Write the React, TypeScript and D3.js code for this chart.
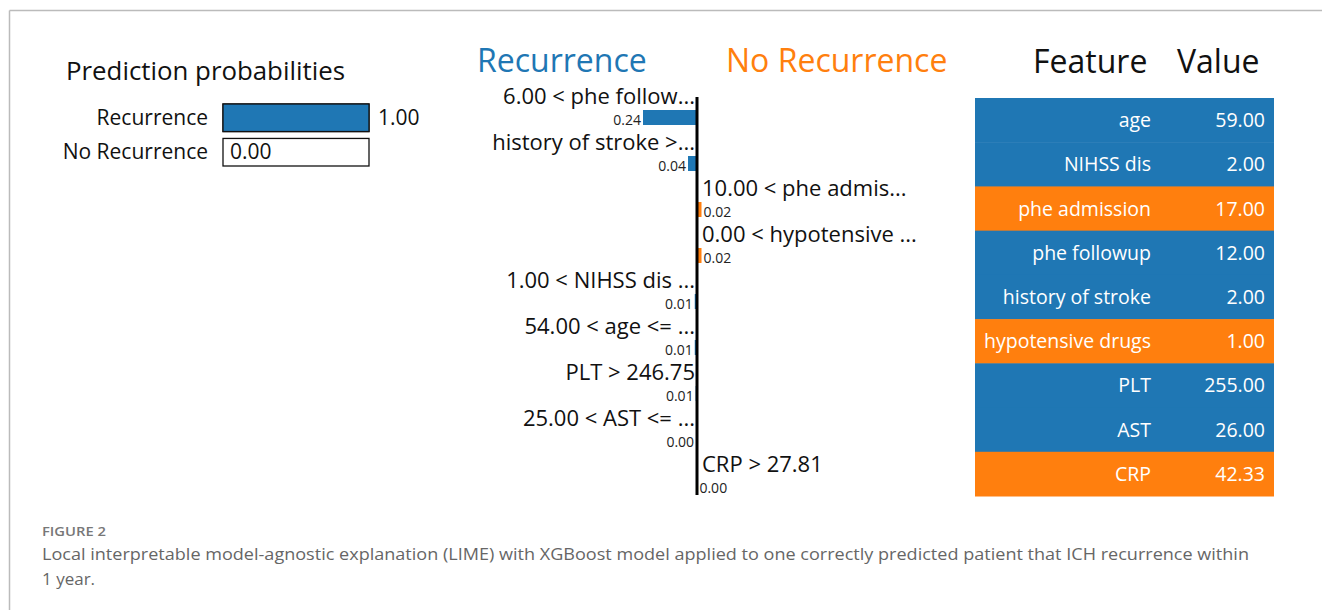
import React from "react";
import * as d3 from "d3";

const BLUE = "#1f77b4";
const ORANGE = "#ff7f0e";
const FONT = "'Open Sans', 'Noto Sans', sans-serif";

// prediction probabilities
const classNames = ["Recurrence", "No Recurrence"];
const classProbs = [1.0, 0.0];

// LIME explanation weights (negative = towards Recurrence)
const ruleLabels = [
  "6.00 < phe follow...",
  "history of stroke >...",
  "10.00 < phe admis...",
  "0.00 < hypotensive ...",
  "1.00 < NIHSS dis ...",
  "54.00 < age <= ...",
  "PLT > 246.75",
  "25.00 < AST <= ...",
  "CRP > 27.81",
];
const ruleWeights = [-0.24, -0.04, 0.02, 0.02, -0.01, -0.01, -0.006, -0.004, 0.002];

// feature table
const featureNames = ["age", "NIHSS dis", "phe admission", "phe followup", "history of stroke", "hypotensive drugs", "PLT", "AST", "CRP"];
const featureValues = ["59.00", "2.00", "17.00", "12.00", "2.00", "1.00", "255.00", "26.00", "42.33"];
const featureSide = ["rec", "rec", "no", "rec", "rec", "no", "rec", "rec", "no"];

const captionTitle = "FIGURE 2";
const captionLines = [
  "Local interpretable model-agnostic explanation (LIME) with XGBoost model applied to one correctly predicted patient that ICH recurrence within",
  "1 year.",
];

function ProbPanel() {
  const x = d3.scaleLinear().domain([0, 1]).range([223, 369]);
  const y = d3.scaleBand().domain(classNames).range([104, 166]).paddingInner(0.2);
  return (
    <g fontFamily={FONT}>
      <text x={66} y={80} fontSize={25} fill="#111" textLength={279} lengthAdjust="spacingAndGlyphs">Prediction probabilities</text>
      {classNames.map((c, i) => {
        const yy = y(c)!;
        const h = y.bandwidth();
        const p = classProbs[i];
        return (
          <g key={c}>
            <text x={208} y={yy + h / 2 + 7} textAnchor="end" fontSize={21} fill="#111">{c}</text>
            <rect x={x(0)} y={yy} width={x(1) - x(0)} height={h} fill="none" stroke="#111" strokeWidth={1.3} />
            <rect x={x(0)} y={yy} width={x(p) - x(0)} height={h} fill={BLUE} stroke="#111" strokeWidth={1.3} />
            {p > 0.5 ? (
              <text x={x(1) + 9} y={yy + h / 2 + 7} fontSize={21} fill="#111">{p.toFixed(2)}</text>
            ) : (
              <text x={x(0) + 7} y={yy + h / 2 + 7} fontSize={21} fill="#111">{p.toFixed(2)}</text>
            )}
          </g>
        );
      })}
    </g>
  );
}

function ExplainPanel() {
  const axisX = 697;
  const w = d3.scaleLinear().domain([0, 0.24]).range([0, 54]);
  const y = d3.scaleBand().domain(ruleLabels).range([88, 502]);
  return (
    <g fontFamily={FONT}>
      <text x={477} y={72} fontSize={32} fill={BLUE}>Recurrence</text>
      <text x={726} y={72} fontSize={32} fill={ORANGE}>No Recurrence</text>
      {ruleLabels.map((r, i) => {
        const v = ruleWeights[i];
        const top = y(r)!;
        const left = v < 0;
        const bw = w(Math.abs(v));
        const barY = top + 22;
        return (
          <g key={r}>
            <text x={left ? axisX - 2 : axisX + 5} y={top + 16} textAnchor={left ? "end" : "start"} fontSize={22} fill="#111">{r}</text>
            <rect x={left ? axisX - bw : axisX} y={barY} width={bw} height={15} fill={left ? BLUE : ORANGE} />
            <text x={left ? axisX - bw - 2 : axisX + bw + 2} y={barY + 14.5} textAnchor={left ? "end" : "start"} fontSize={14} fill="#222">{Math.abs(v).toFixed(2)}</text>
          </g>
        );
      })}
      <line x1={axisX} x2={axisX} y1={97} y2={495} stroke="#000" strokeWidth={3} />
    </g>
  );
}

function TablePanel() {
  const y = d3.scaleBand().domain(featureNames).range([98, 496]);
  return (
    <g fontFamily={FONT}>
      <text x={1033} y={73} fontSize={32} fill="#111">Feature</text>
      <text x={1177} y={73} fontSize={32} fill="#111">Value</text>
      {featureNames.map((f, i) => {
        const yy = y(f)!;
        const h = y.bandwidth();
        return (
          <g key={f}>
            <rect x={975} y={yy} width={299} height={h + 0.5} fill={featureSide[i] === "no" ? ORANGE : BLUE} />
            <text x={1151} y={yy + h / 2 + 7} textAnchor="end" fontSize={19.5} fill="#fff">{f}</text>
            <text x={1265} y={yy + h / 2 + 7} textAnchor="end" fontSize={19.5} fill="#fff">{featureValues[i]}</text>
          </g>
        );
      })}
    </g>
  );
}

export default function App() {
  return (
    <div style={{ position: "fixed", left: 0, top: 0 }}>
      <svg width={1322} height={610} style={{ display: "block", background: "#fff" }}>
        <line x1={9.5} x2={1322} y1={10.5} y2={10.5} stroke="#bbb" strokeWidth={1.5} />
        <line x1={9.5} x2={9.5} y1={10.5} y2={610} stroke="#bbb" strokeWidth={1.5} />
        <ProbPanel />
        <ExplainPanel />
        <TablePanel />
        <text x={42} y={536} fontFamily={FONT} fontSize={13} fontWeight={600} fill="#777" textLength={64} lengthAdjust="spacingAndGlyphs">{captionTitle}</text>
        {captionLines.map((l, i) => (
          <text key={i} x={42} y={560 + i * 25} fontFamily={FONT} fontSize={17} fill="#666"
            textLength={i === 0 ? 1207 : undefined} lengthAdjust="spacingAndGlyphs">{l}</text>
        ))}
      </svg>
    </div>
  );
}
